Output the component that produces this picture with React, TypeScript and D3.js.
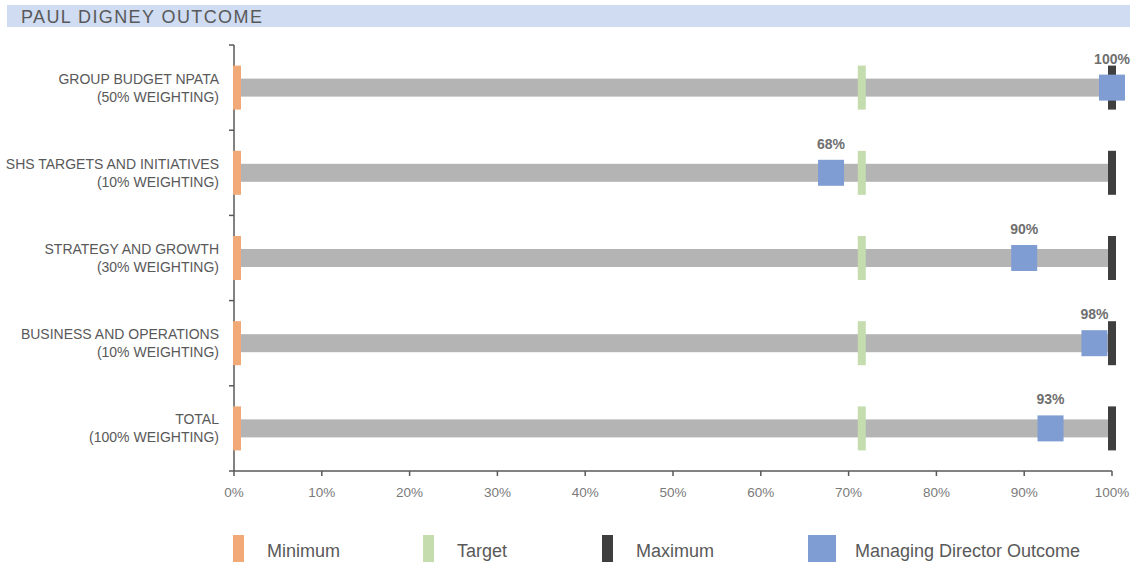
import React from 'react';
import * as d3 from 'd3';

// Chart data
const categories = [
  ['GROUP BUDGET NPATA', '(50% WEIGHTING)'],
  ['SHS TARGETS AND INITIATIVES', '(10% WEIGHTING)'],
  ['STRATEGY AND GROWTH', '(30% WEIGHTING)'],
  ['BUSINESS AND OPERATIONS', '(10% WEIGHTING)'],
  ['TOTAL', '(100% WEIGHTING)'],
];
const minimumValues = [0, 0, 0, 0, 0];
const targetValues = [71.5, 71.5, 71.5, 71.5, 71.5];
const maximumValues = [100, 100, 100, 100, 100];
const outcomeValues = [100, 68, 90, 98, 93];
const xTicks = [0, 10, 20, 30, 40, 50, 60, 70, 80, 90, 100];
const legendItems = ['Minimum', 'Target', 'Maximum', 'Managing Director Outcome'];

const W = 1135;
const H = 563;
const COLORS = {
  min: '#f2a978',
  target: '#c4dcae',
  max: '#3f3f3f',
  outcome: '#7f9dd3',
  bar: '#b4b4b4',
  text: '#595959',
  axis: '#595959',
};
const FONT = '"Liberation Sans", Arial, sans-serif';
const NARROW = '"Liberation Sans Narrow", "Liberation Sans", Arial, sans-serif';

const App = () => {
  const x = d3.scaleLinear().domain([0, 100]).range([234, 1112]);
  const y = d3
    .scaleBand<number>()
    .domain(d3.range(categories.length))
    .range([45, 471]);
  const bw = y.bandwidth();
  const cy = (i: number) => (y(i) as number) + bw / 2;

  const legendX = [233, 423, 602, 808];
  const legendColors = [COLORS.min, COLORS.target, COLORS.max, COLORS.outcome];

  return (
    <svg
      width={W}
      height={H}
      style={{ position: 'absolute', left: 0, top: 0, background: '#fff' }}
      fontFamily={FONT}
    >
      {/* title band */}
      <rect x={7} y={5} width={1123} height={22} fill="#cfdcf1" />
      <text x={21} y={23} fontSize={18} letterSpacing={1.4} fill={COLORS.text}>
        PAUL DIGNEY OUTCOME
      </text>

      {/* category labels */}
      {categories.map((c, i) => (
        <text key={i} textAnchor="end" fontSize={14} fill={COLORS.text}>
          <tspan x={219} y={cy(i) - 4}>{c[0]}</tspan>
          <tspan x={219} y={cy(i) + 14}>{c[1]}</tspan>
        </text>
      ))}

      {/* gray bars */}
      {categories.map((_, i) => (
        <rect
          key={'b' + i}
          x={x(minimumValues[i])}
          y={cy(i) - 9}
          width={x(maximumValues[i]) - x(minimumValues[i]) - 4}
          height={18}
          fill={COLORS.bar}
        />
      ))}

      {/* y axis */}
      <line x1={234} x2={234} y1={45} y2={471} stroke={COLORS.axis} strokeWidth={1.5} />
      {d3.range(categories.length + 1).map((i) => {
        const yy = i < categories.length ? (y(i) as number) : 471;
        return (
          <line key={'yt' + i} x1={229} x2={234} y1={yy} y2={yy} stroke={COLORS.axis} strokeWidth={1.5} />
        );
      })}

      {/* markers */}
      {categories.map((_, i) => (
        <g key={'m' + i}>
          <rect x={x(minimumValues[i]) - 1} y={cy(i) - 22} width={8} height={44} fill={COLORS.min} />
          <rect x={x(targetValues[i]) - 4} y={cy(i) - 22} width={8} height={44} fill={COLORS.target} />
          <rect x={x(maximumValues[i]) - 4} y={cy(i) - 22} width={8} height={44} fill={COLORS.max} />
          <rect x={x(outcomeValues[i]) - 13} y={cy(i) - 13} width={26} height={26} fill={COLORS.outcome} />
          <text
            x={x(outcomeValues[i])}
            y={cy(i) - 24}
            textAnchor="middle"
            fontSize={14}
            fontWeight="bold"
            fill="#6f6f6f"
          >
            {outcomeValues[i]}%
          </text>
        </g>
      ))}

      {/* x axis */}
      <line x1={234} x2={1112} y1={471} y2={471} stroke={COLORS.axis} strokeWidth={1.5} />
      {xTicks.map((t) => (
        <g key={'xt' + t}>
          <line x1={x(t)} x2={x(t)} y1={471} y2={476} stroke={COLORS.axis} strokeWidth={1.5} />
          <text x={x(t)} y={497} textAnchor="middle" fontSize={13.5} fill="#7a7a7a">
            {t}%
          </text>
        </g>
      ))}

      {/* legend */}
      {legendItems.map((l, i) => (
        <g key={'l' + i}>
          <rect
            x={legendX[i]}
            y={535}
            width={i === 3 ? 28 : 11}
            height={27}
            fill={legendColors[i]}
          />
          <text
            x={legendX[i] + (i === 3 ? 47 : 34)}
            y={557}
            fontSize={18}
            fill={COLORS.text}
            fontFamily={NARROW}
          >
            {l}
          </text>
        </g>
      ))}
    </svg>
  );
};

export default App;
